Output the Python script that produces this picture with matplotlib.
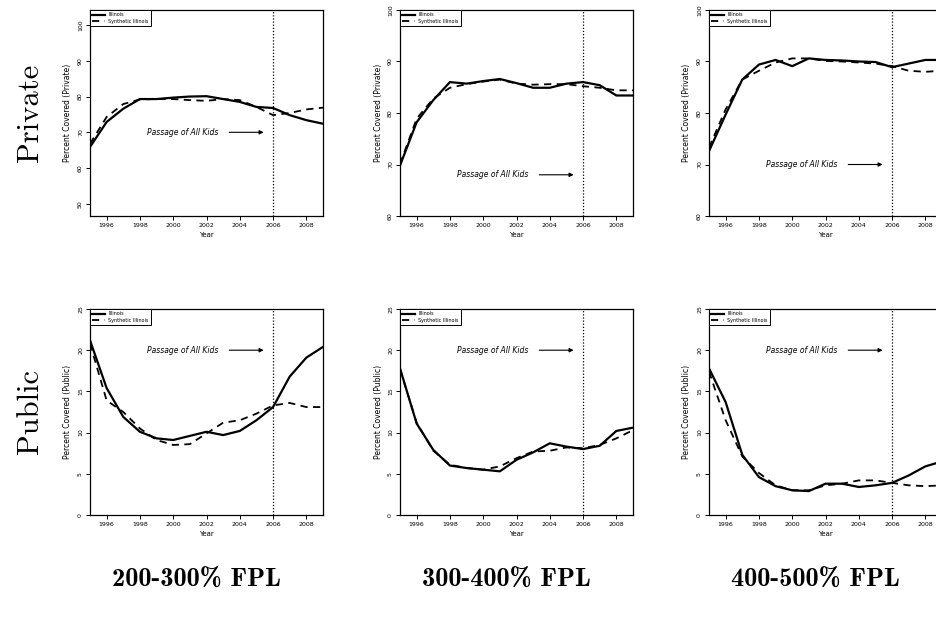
import numpy as np
import matplotlib.pyplot as plt

years = np.arange(1995, 2010)

# Private coverage
priv_200_il = [65.9, 72.9, 76.6, 79.3, 79.3, 79.7, 80.0, 80.1, 79.3, 78.5, 77.1, 76.8, 74.8, 73.4, 72.4]
priv_200_syn = [66.8, 74.3, 77.9, 79.2, 79.3, 79.3, 79.0, 78.8, 79.3, 79.0, 77.1, 74.8, 75.4, 76.4, 76.9]
priv_300_il = [69.8, 78.2, 82.5, 86.0, 85.7, 86.2, 86.6, 85.8, 84.9, 84.9, 85.7, 86.0, 85.4, 83.4, 83.4]
priv_300_syn = [70.1, 78.9, 82.8, 84.9, 85.6, 86.1, 86.5, 85.7, 85.5, 85.6, 85.6, 85.2, 84.9, 84.4, 84.4]
priv_400_il = [72.6, 79.7, 86.5, 89.4, 90.3, 89.1, 90.6, 90.3, 90.2, 90.0, 89.9, 88.9, 89.6, 90.3, 90.3]
priv_400_syn = [73.3, 80.7, 86.5, 88.2, 89.8, 90.6, 90.6, 90.1, 90.0, 89.8, 89.6, 89.1, 88.2, 88.0, 88.2]

# Public coverage
pub_200_il = [21.2, 15.4, 11.9, 10.1, 9.3, 9.1, 9.6, 10.1, 9.7, 10.2, 11.5, 13.1, 16.8, 19.1, 20.4]
pub_200_syn = [20.8, 13.9, 12.5, 10.5, 9.1, 8.5, 8.6, 9.9, 11.2, 11.5, 12.3, 13.3, 13.6, 13.1, 13.1]
pub_300_il = [17.8, 11.1, 7.9, 6.0, 5.7, 5.5, 5.3, 6.7, 7.6, 8.7, 8.3, 8.0, 8.4, 10.2, 10.6]
pub_300_syn = [17.7, 11.2, 7.8, 6.1, 5.7, 5.5, 5.9, 6.9, 7.7, 7.8, 8.2, 8.1, 8.5, 9.3, 10.3]
pub_400_il = [17.8, 13.7, 7.3, 4.6, 3.5, 3.0, 2.9, 3.8, 3.8, 3.4, 3.6, 3.9, 4.8, 5.9, 6.5]
pub_400_syn = [17.4, 11.5, 7.1, 5.1, 3.6, 3.0, 3.0, 3.6, 3.8, 4.2, 4.2, 3.9, 3.6, 3.5, 3.6]

col_labels = ["200-300% FPL", "300-400% FPL", "400-500% FPL"]
row_labels = ["Private", "Public"]
xticks = [1996, 1998, 2000, 2002, 2004, 2006, 2008]

panels = [
    # (row, col, illinois, synthetic, ylim, yticks, ylabel, text_y)
    (0, 0, priv_200_il, priv_200_syn, (46.6, 104.2), [50, 60, 70, 80, 90, 100], "Percent Covered (Private)", 70),
    (0, 1, priv_300_il, priv_300_syn, (60, 100), [60, 70, 80, 90, 100], "Percent Covered (Private)", 68),
    (0, 2, priv_400_il, priv_400_syn, (60, 100), [60, 70, 80, 90, 100], "Percent Covered (Private)", 70),
    (1, 0, pub_200_il, pub_200_syn, (0, 25), [0, 5, 10, 15, 20, 25], "Percent Covered (Public)", 20),
    (1, 1, pub_300_il, pub_300_syn, (0, 25), [0, 5, 10, 15, 20, 25], "Percent Covered (Public)", 20),
    (1, 2, pub_400_il, pub_400_syn, (0, 25), [0, 5, 10, 15, 20, 25], "Percent Covered (Public)", 20),
]

fig = plt.figure(figsize=(9.37, 6.2), dpi=100)
lefts = [90 / 937, 400 / 937, 709 / 937]
bottoms = [1 - 216 / 620, 1 - 515 / 620]
w = 233 / 937
h = 206 / 620

for row, col, il, syn, ylim, yt, ylab, ty in panels:
    ax = fig.add_axes([lefts[col], bottoms[row], w, h])
    ax.plot(years, il, color="black", lw=1.6, label="Illinois")
    ax.plot(years, syn, color="black", lw=1.3, ls=(0, (4, 3)), label="Synthetic Illinois")
    ax.axvline(2006, color="black", lw=0.9, ls=(0, (1, 1.5)))
    ax.set_xlim(1995, 2009)
    ax.set_ylim(*ylim)
    ax.set_xticks(xticks)
    ax.set_yticks(yt)
    ax.tick_params(labelsize=4.5, length=3, width=0.7, pad=2)
    for lbl in ax.get_yticklabels():
        lbl.set_rotation(90)
        lbl.set_va("center")
    ax.set_xlabel("Year", fontsize=5, labelpad=3)
    ax.set_ylabel(ylab, fontsize=5.5, labelpad=4)
    for s in ax.spines.values():
        s.set_linewidth(0.9)
    ax.annotate("", xy=(2005.6, ty), xytext=(2003.2, ty),
                arrowprops=dict(arrowstyle="-|>", color="black", lw=0.8, mutation_scale=6))
    ax.text(2000.55, ty, "Passage of All Kids", fontsize=5.5, style="italic",
            ha="center", va="center")
    leg = ax.legend(loc="upper left", fontsize=3.5, fancybox=False, edgecolor="black",
                    framealpha=1, borderaxespad=0.1, handlelength=2.5, borderpad=0.4,
                    labelspacing=0.3)
    leg.get_frame().set_linewidth(0.7)

for i, lab in enumerate(row_labels):
    yc = bottoms[i] + h / 2
    fig.text(30 / 937, yc, lab, rotation=90, family="cmr10", fontsize=22,
             ha="center", va="center")

for i, lab in enumerate(col_labels):
    xc = lefts[i] + w / 2 - 10 / 937
    fig.text(xc, 1 - 580 / 620, lab, family="cmb10", fontsize=19,
             ha="center", va="center")

fig.savefig("out.png", dpi=100)
